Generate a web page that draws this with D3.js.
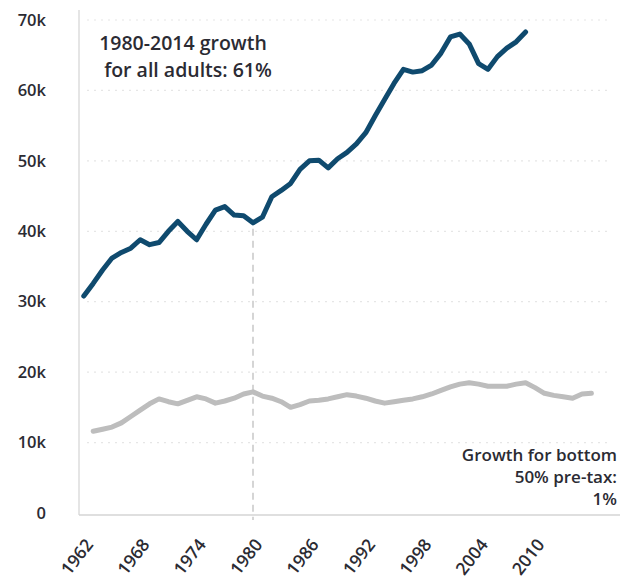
<!DOCTYPE html>
<html>
<head>
<meta charset="utf-8">
<script src="https://cdn.jsdelivr.net/npm/d3@7"></script>
<style>
  html, body { margin: 0; padding: 0; background: #fff; }
  svg { display: block; font-family: "Open Sans", Lato, sans-serif; }
</style>
</head>
<body>
<svg id="chart" width="623" height="579"></svg>
<script>
// ---- data ----
const allAdultsYears = d3.range(1962, 2010);
const allAdultsValues = [
  30.8, 32.6, 34.5, 36.2, 37.0, 37.6, 38.8, 38.1, 38.4, 40.0,
  41.4, 40.0, 38.8, 41.0, 43.0, 43.5, 42.3, 42.2, 41.2, 42.0,
  44.9, 45.8, 46.8, 48.8, 50.0, 50.1, 49.0, 50.3, 51.2, 52.4,
  54.0, 56.4, 58.7, 61.0, 63.0, 62.6, 62.8, 63.6, 65.3, 67.6,
  68.0, 66.6, 63.8, 63.0, 64.8, 66.0, 66.9, 68.3
].map(v => v * 1000);

const bottom50Years = d3.range(1963, 2017);
const bottom50Values = [
  11.6, 11.9, 12.2, 12.8, 13.7, 14.6, 15.5, 16.2, 15.8, 15.5,
  16.0, 16.5, 16.2, 15.6, 15.9, 16.3, 16.9, 17.2, 16.6, 16.3,
  15.8, 15.0, 15.4, 15.9, 16.0, 16.2, 16.5, 16.8, 16.6, 16.3,
  15.9, 15.6, 15.8, 16.0, 16.2, 16.5, 16.9, 17.4, 17.9, 18.3,
  18.5, 18.3, 18.0, 18.0, 18.0, 18.3, 18.5, 17.8, 17.0, 16.7,
  16.5, 16.3, 16.9, 17.0
].map(v => v * 1000);

const xTicks = [1962, 1968, 1974, 1980, 1986, 1992, 1998, 2004, 2010];
const yTicks = [0, 10000, 20000, 30000, 40000, 50000, 60000, 70000];
const markerYear = 1980;
const topNote = ["1980-2014 growth", "for all adults: 61%"];
const bottomNote = ["Growth for bottom", "50% pre-tax:", "1%"];

// ---- layout ----
const svg = d3.select("#chart");
const plotLeft = 79, plotRight = 620, plotTop = 20, plotBottom = 515;
const textColor = "#2b2b33";

const x = d3.scaleLinear().domain([1980, 2010]).range([253, 535]);
const y = d3.scaleLinear().domain([0, 70000]).range([513, 20]);

// gridlines (faint dotted)
svg.append("g")
  .selectAll("line")
  .data(yTicks.filter(d => d > 0))
  .join("line")
  .attr("x1", plotLeft + 8).attr("x2", plotRight - 10)
  .attr("y1", d => y(d)).attr("y2", d => y(d))
  .attr("stroke", "#e6e6e6").attr("stroke-width", 1.2)
  .attr("stroke-dasharray", "2,5");

// left axis line
svg.append("line")
  .attr("x1", plotLeft).attr("x2", plotLeft)
  .attr("y1", 10).attr("y2", plotBottom)
  .attr("stroke", "#dcdcdc").attr("stroke-width", 1.5);

// bottom axis line
svg.append("line")
  .attr("x1", plotLeft).attr("x2", plotRight)
  .attr("y1", plotBottom).attr("y2", plotBottom)
  .attr("stroke", "#d4d4d4").attr("stroke-width", 1.5);

// y axis labels
const yAxis = d3.axisLeft(y)
  .tickValues(yTicks)
  .tickSize(0)
  .tickPadding(0)
  .tickFormat(d => d === 0 ? "0" : (d / 1000) + "k");
const gy = svg.append("g").attr("transform", "translate(46,0)").call(yAxis);
gy.select(".domain").remove();
gy.selectAll("text")
  .attr("fill", textColor)
  .style("font-size", "16.5px")
  .style("font-weight", "600")
  .style("font-family", "'Open Sans', sans-serif");

// x axis labels (rotated)
const xAxis = d3.axisBottom(x)
  .tickValues(xTicks)
  .tickSize(0)
  .tickPadding(0)
  .tickFormat(d3.format("d"));
const gx = svg.append("g").attr("transform", "translate(0,529)").call(xAxis);
gx.select(".domain").remove();
gx.selectAll("text")
  .attr("fill", textColor)
  .attr("x", 0)
  .attr("y", 0)
  .attr("dy", "0.35em")
  .attr("text-anchor", "end")
  .attr("transform", "translate(5,12) rotate(-52)")
  .style("font-size", "17.5px")
  .style("font-weight", "600")
  .style("font-family", "'Open Sans', sans-serif");

// dashed marker at 1980
const markerIdx = allAdultsYears.indexOf(markerYear);
svg.append("line")
  .attr("x1", x(markerYear)).attr("x2", x(markerYear))
  .attr("y1", y(allAdultsValues[markerIdx]) + 6)
  .attr("y2", plotBottom + 5)
  .attr("stroke", "#c8c8c8").attr("stroke-width", 1.5)
  .attr("stroke-dasharray", "7,5");

// lines
const lineGen = d3.line()
  .x(d => x(d[0]))
  .y(d => y(d[1]))
  .curve(d3.curveLinear);

svg.append("path")
  .datum(bottom50Years.map((yr, i) => [yr, bottom50Values[i]]))
  .attr("fill", "none")
  .attr("stroke", "#bdbdbd")
  .attr("stroke-width", 5)
  .attr("stroke-linejoin", "round")
  .attr("stroke-linecap", "round")
  .attr("d", lineGen);

svg.append("path")
  .datum(allAdultsYears.map((yr, i) => [yr, allAdultsValues[i]]))
  .attr("fill", "none")
  .attr("stroke", "#0f4a6e")
  .attr("stroke-width", 5)
  .attr("stroke-linejoin", "round")
  .attr("stroke-linecap", "round")
  .attr("d", lineGen);

// annotations
svg.append("text")
  .attr("y", 50)
  .attr("text-anchor", "middle")
  .attr("fill", textColor)
  .style("font-size", "19.5px")
  .style("font-weight", "600")
  .selectAll("tspan")
  .data(topNote)
  .join("tspan")
  .attr("x", (d, i) => i === 0 ? 183 : 188)
  .attr("dy", (d, i) => i === 0 ? 0 : 27)
  .text(d => d);

svg.append("text")
  .attr("y", 461)
  .attr("text-anchor", "end")
  .attr("fill", textColor)
  .style("font-size", "17px")
  .style("font-weight", "600")
  .selectAll("tspan")
  .data(bottomNote)
  .join("tspan")
  .attr("x", 617)
  .attr("dy", (d, i) => i === 0 ? 0 : 22)
  .text(d => d);
</script>
</body>
</html>
